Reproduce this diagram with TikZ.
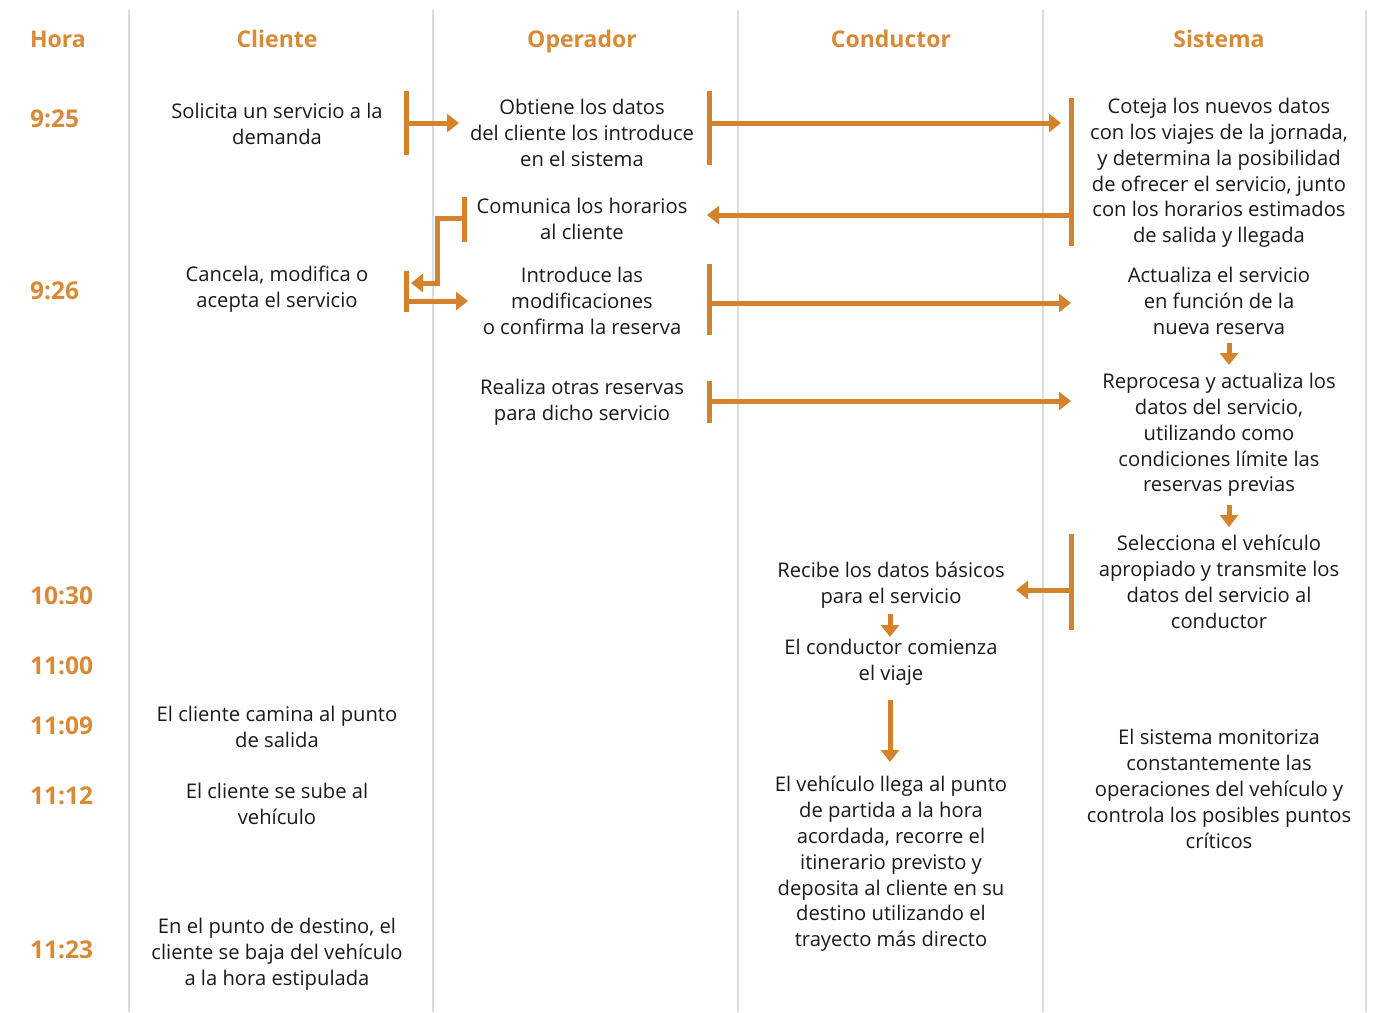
\documentclass[tikz,border=0pt]{standalone}
\usepackage{fontspec}
\setmainfont{Open Sans}
\usetikzlibrary{arrows.meta}
\definecolor{org}{HTML}{D4822C}
\definecolor{hdr}{HTML}{D98A36}
\definecolor{lgrey}{HTML}{DCDCDC}
\definecolor{txtc}{HTML}{1A1A1A}
\tikzset{
  txt/.style={align=center, font=\fontsize{20.2}{25.8}\selectfont, text=txtc, inner sep=0pt},
  hd/.style={font=\fontsize{23}{28}\selectfont\bfseries, text=hdr, inner sep=0pt, anchor=base},
  tm/.style={font=\fontsize{24.5}{28}\selectfont\bfseries, text=hdr, inner sep=0pt, anchor=base west},
  bar/.style={draw=org, line width=5pt},
  arr/.style={draw=org, line width=5pt, -{Triangle[length=12pt,width=18pt]}},
  sep/.style={draw=lgrey, line width=2.5pt}
}
\begin{document}
\begin{tikzpicture}[x=1pt,y=-1pt]
\useasboundingbox (0,0) rectangle (1386,1012);
% separators
\foreach \xx/\nm in {129/s1,433/s2,738/s3,1043/s4,1366/s5}{
  \coordinate (\nm t) at (\xx,10); \coordinate (\nm b) at (\xx,1012);
  \draw[sep] (\nm t) -- (\nm b);
}
% headers
\node[hd] (hHora) at (58,47.5) {Hora};
\node[hd] (hCli) at (277,47.5) {Cliente};
\node[hd] (hOp) at (582,47.5) {Operador};
\node[hd] (hCon) at (891,47.5) {Conductor};
\node[hd] (hSis) at (1219,47.5) {Sistema};
% times
\node[tm] (t1) at (30,127) {9:25};
\node[tm] (t2) at (30,299) {9:26};
\node[tm] (t3) at (30,604) {10:30};
\node[tm] (t4) at (30,674) {11:00};
\node[tm] (t5) at (30,734) {11:09};
\node[tm] (t6) at (30,804) {11:12};
\node[tm] (t7) at (30,958) {11:23};
% cliente
\node[txt] (c1) at (277,124) {Solicita un servicio a la\\demanda};
\node[txt] (c2) at (277,289) {Cancela, modifica o\\acepta el servicio};
\node[txt] (c3) at (277,727) {El cliente camina al punto\\de salida};
\node[txt] (c4) at (277,804) {El cliente se sube al\\vehículo};
\node[txt] (c5) at (277,954) {En el punto de destino, el\\cliente se baja del vehículo\\a la hora estipulada};
% operador
\node[txt] (o1) at (582,133) {Obtiene los datos\\del cliente los introduce\\en el sistema};
\node[txt] (o2) at (582,219) {Comunica los horarios\\al cliente};
\node[txt] (o3) at (582,301) {Introduce las\\modificaciones\\o confirma la reserva};
\node[txt] (o4) at (582,402) {Realiza otras reservas\\para dicho servicio};
% conductor
\node[txt] (d1) at (891,585) {Recibe los datos básicos\\para el servicio};
\node[txt] (d2) at (891,662) {El conductor comienza\\el viaje};
\node[txt] (d3) at (891,864) {El vehículo llega al punto\\de partida a la hora\\acordada, recorre el\\itinerario previsto y\\deposita al cliente en su\\destino utilizando el\\trayecto más directo};
% sistema
\node[txt] (y1) at (1219,173) {Coteja los nuevos datos\\con los viajes de la jornada,\\y determina la posibilidad\\de ofrecer el servicio, junto\\con los horarios estimados\\de salida y llegada};
\node[txt] (y2) at (1219,301) {Actualiza el servicio\\en función de la\\nueva reserva};
\node[txt] (y3) at (1219,435) {Reprocesa y actualiza los\\datos del servicio,\\utilizando como\\condiciones límite las\\reservas previas};
\node[txt] (y4) at (1219,582) {Selecciona el vehículo\\apropiado y transmite los\\datos del servicio al\\conductor};
\node[txt] (y5) at (1219,789) {El sistema monitoriza\\constantemente las\\operaciones del vehículo y\\controla los posibles puntos\\críticos};
% bars (coordinates)
\coordinate (b1a) at (406,91); \coordinate (b1b) at (406,155);
\coordinate (b2a) at (709,91); \coordinate (b2b) at (709,165);
\coordinate (b3a) at (1071,98); \coordinate (b3b) at (1071,246);
\coordinate (b4a) at (464,197); \coordinate (b4b) at (464,242);
\coordinate (b5a) at (406,271); \coordinate (b5b) at (406,312);
\coordinate (b6a) at (709,264); \coordinate (b6b) at (709,335);
\coordinate (b7a) at (709,381); \coordinate (b7b) at (709,423);
\coordinate (b8a) at (1071,534); \coordinate (b8b) at (1071,630);
\foreach \b in {b1,b2,b3,b4,b5,b6,b7,b8}{\draw[bar] (\b a) -- (\b b);}
% arrows
\coordinate (a1s) at (406,123); \coordinate (a1e) at (459,123);
\draw[arr] (a1s) -- (a1e);
\coordinate (a2s) at (709,123); \coordinate (a2e) at (1061,123);
\draw[arr] (a2s) -- (a2e);
\coordinate (a3s) at (1071,215); \coordinate (a3e) at (707,215);
\draw[arr] (a3s) -- (a3e);
\coordinate (a4s) at (464,218); \coordinate (a4m1) at (437,218); \coordinate (a4m2) at (437,283); \coordinate (a4e) at (411,283);
\draw[arr] (a4s) -- (a4m1) -- (a4m2) -- (a4e);
\coordinate (a5s) at (406,301); \coordinate (a5e) at (468,301);
\draw[arr] (a5s) -- (a5e);
\coordinate (a6s) at (709,303); \coordinate (a6e) at (1071,303);
\draw[arr] (a6s) -- (a6e);
\coordinate (a7s) at (709,401); \coordinate (a7e) at (1071,401);
\draw[arr] (a7s) -- (a7e);
\coordinate (a8s) at (1229,343); \coordinate (a8e) at (1229,365);
\draw[arr] (a8s) -- (a8e);
\coordinate (a9s) at (1229,505); \coordinate (a9e) at (1229,527);
\draw[arr] (a9s) -- (a9e);
\coordinate (a10s) at (1071,590); \coordinate (a10e) at (1016,590);
\draw[arr] (a10s) -- (a10e);
\coordinate (a11s) at (890,614); \coordinate (a11e) at (890,637);
\draw[arr] (a11s) -- (a11e);
\coordinate (a12s) at (890,700); \coordinate (a12e) at (890,762);
\draw[arr] (a12s) -- (a12e);
\end{tikzpicture}
\end{document}
